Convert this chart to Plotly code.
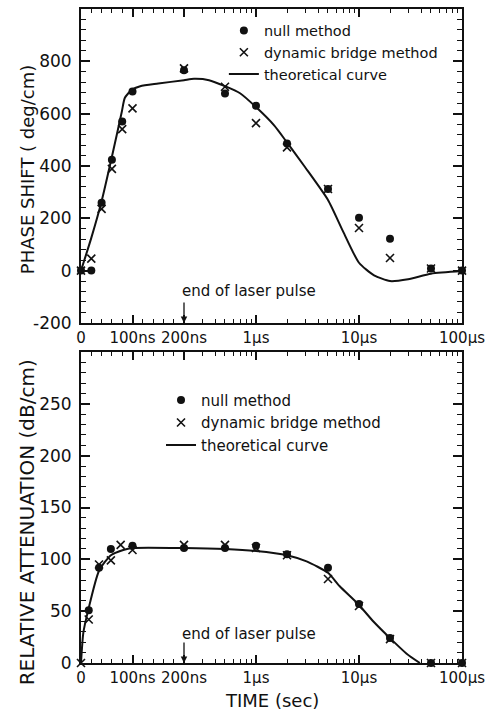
import math
import plotly.graph_objects as go

# ---------------- data (time in ns) ----------------
phase_null_t = [0, 20, 40, 60, 80, 100, 200, 500, 1000, 2000, 5000, 10000, 20000, 50000, 100000]
phase_null_v = [0, 0, 259, 424, 570, 685, 766, 677, 630, 486, 312, 202, 122, 8, 0]

phase_bridge_t = [0, 20, 40, 60, 80, 100, 200, 500, 1000, 2000, 5000, 10000, 20000, 50000, 100000]
phase_bridge_v = [0, 46, 236, 389, 541, 620, 773, 703, 564, 471, 312, 163, 48, 8, 0]

phase_theory_t = [0, 20, 40, 60, 79, 85, 98, 115, 150, 200, 250, 350, 500, 700, 1000, 1500,
                  2000, 3000, 5000, 7000, 10000, 14000, 20000, 30000, 50000, 100000]
phase_theory_v = [0, 125, 265, 435, 605, 660, 690, 705, 715, 728, 733, 728, 705, 678, 625, 555,
                  490, 395, 270, 150, 30, -18, -40, -33, -12, -2]

att_null_t = [15, 35, 58, 100, 200, 500, 1000, 2000, 5000, 10000, 20000, 50000, 100000]
att_null_v = [51, 92, 110, 113, 111, 111, 113, 105, 92, 57, 24, 0, 0]

att_bridge_t = [0, 15, 35, 58, 77, 100, 200, 500, 1000, 2000, 5000, 10000, 20000, 50000, 100000]
att_bridge_v = [0, 42, 95, 99, 114, 109, 114, 114, 111, 104, 81, 55, 23, 0, 0]

att_theory_t = [0, 4.5, 14, 35, 58, 82, 100, 200, 500, 1000, 2000, 3100, 5000, 6500, 10000,
                13800, 20000, 29000, 39000]
att_theory_v = [0, 29, 51, 89, 104, 109, 111, 111, 110, 108, 104, 98, 87, 74, 56,
                40, 24, 9, 0]

x_tick_times = [0, 100, 200, 1000, 10000, 100000]
x_tick_text = ["0", "100ns", "200ns", "1\u00b5s", "10\u00b5s", "100\u00b5s"]
x_minor_times = ([20, 40, 60, 80, 120, 140, 160, 180]
                 + [300, 400, 500, 600, 700, 800, 900]
                 + [2000, 3000, 4000, 5000, 6000, 7000, 8000, 9000]
                 + [20000, 30000, 40000, 50000, 60000, 70000, 80000, 90000])

phase_ticks = [-200, 0, 200, 400, 600, 800]
phase_tick_text = ["-200", "0", "200", "400", "600", "800"]
att_ticks = [0, 50, 100, 150, 200, 250]
att_tick_text = ["0", "50", "100", "150", "200", "250"]

PULSE_END = 200  # ns


# axis: linear 0-200 ns, logarithmic afterwards (one decade = same length as 0-200 ns)
def pos(t):
    return t / 200.0 if t <= 200 else 1.0 + math.log10(t / 200.0)


def P(ts):
    return [pos(t) for t in ts]


FONT = "DejaVu Sans"
BLACK = "#111111"

fig = go.Figure()

def add_panel(xa, ya, null_t, null_v, br_t, br_v, th_t, th_v, legend):
    fig.add_trace(go.Scatter(x=P(null_t), y=null_v, mode="markers", name="null method",
                             marker=dict(symbol="circle", size=8, color=BLACK),
                             xaxis=xa, yaxis=ya, legend=legend, cliponaxis=False))
    fig.add_trace(go.Scatter(x=P(br_t), y=br_v, mode="markers", name="dynamic bridge method",
                             marker=dict(symbol="x-thin", size=8, color=BLACK,
                                         line=dict(width=1.6, color=BLACK)),
                             xaxis=xa, yaxis=ya, legend=legend, cliponaxis=False))
    fig.add_trace(go.Scatter(x=P(th_t), y=th_v, mode="lines", name="theoretical curve",
                             line=dict(color=BLACK, width=2, shape="spline", smoothing=0.6),
                             xaxis=xa, yaxis=ya, legend=legend, cliponaxis=False))

add_panel("x", "y", phase_null_t, phase_null_v, phase_bridge_t, phase_bridge_v,
          phase_theory_t, phase_theory_v, "legend")
add_panel("x2", "y2", att_null_t, att_null_v, att_bridge_t, att_bridge_v,
          att_theory_t, att_theory_v, "legend2")

xmax = pos(x_tick_times[-1])
xaxis_common = dict(
    range=[0, xmax], showline=True, linewidth=2, linecolor=BLACK, mirror="allticks",
    ticks="inside", ticklen=8, tickwidth=1.5, tickcolor=BLACK,
    tickvals=P(x_tick_times), ticktext=x_tick_text,
    minor=dict(tickvals=P(x_minor_times), ticks="inside", ticklen=4, tickwidth=1.2,
               tickcolor=BLACK),
    showgrid=False, zeroline=False, automargin=False, ticklabeloverflow="allow",
    tickfont=dict(family=FONT, size=15, color=BLACK),
)
yaxis_common = dict(
    showline=True, linewidth=2, linecolor=BLACK, mirror="allticks",
    ticks="inside", ticklen=9, tickwidth=1.5, tickcolor=BLACK,
    showgrid=False, zeroline=False, ticklabelstandoff=4, automargin=False,
    tickfont=dict(family=FONT, size=17, color=BLACK),
)

fig.update_layout(
    width=487, height=711,
    margin=dict(l=81, r=25, t=9, b=48),
    paper_bgcolor="white", plot_bgcolor="white",
    font=dict(family=FONT, color=BLACK),
    xaxis=dict(domain=[0, 1], anchor="y", **xaxis_common),
    yaxis=dict(domain=[0.52, 1], anchor="x", range=[-200, 1000],
               tickvals=phase_ticks, ticktext=phase_tick_text,
               minor=dict(tick0=-200, dtick=40, ticks="inside", ticklen=5, tickwidth=1.2,
                          tickcolor=BLACK),
               **yaxis_common),
    xaxis2=dict(domain=[0, 1], anchor="y2", **xaxis_common),
    yaxis2=dict(domain=[0, 0.4755], anchor="x2", range=[0, 300],
                tickvals=att_ticks, ticktext=att_tick_text,
                minor=dict(tick0=0, dtick=10, ticks="inside", ticklen=5, tickwidth=1.2,
                           tickcolor=BLACK),
                **yaxis_common),
    showlegend=True,
    legend=dict(x=0.375, y=0.9916, xanchor="left", yanchor="top", bgcolor="rgba(0,0,0,0)",
                font=dict(family=FONT, size=14.5, color=BLACK), itemwidth=30,
                tracegroupgap=0),
    legend2=dict(x=0.21, y=0.427, xanchor="left", yanchor="top", bgcolor="rgba(0,0,0,0)",
                 font=dict(family=FONT, size=15, color=BLACK), itemwidth=30,
                 tracegroupgap=0),
)

annotations = [
    # y axis titles
    dict(text="PHASE SHIFT ( deg/cm)", xref="paper", yref="paper", x=-0.142, y=0.755,
         xanchor="center", yanchor="middle", textangle=-90, showarrow=False,
         font=dict(family=FONT, size=18, color=BLACK)),
    dict(text="RELATIVE ATTENUATION (dB/cm)", xref="paper", yref="paper", x=-0.142, y=0.215,
         xanchor="center", yanchor="middle", textangle=-90, showarrow=False,
         font=dict(family=FONT, size=20, color=BLACK)),
    # x axis title
    dict(text="TIME (sec)", xref="paper", yref="paper", x=0.5, y=-0.057,
         xanchor="center", yanchor="middle", showarrow=False,
         font=dict(family=FONT, size=18, color=BLACK)),
    # end of laser pulse markers
    dict(text="", x=pos(PULSE_END), y=-200, xref="x", yref="y", showarrow=True,
         ax=0, ay=-22, arrowhead=2, arrowsize=1, arrowwidth=1.3, arrowcolor=BLACK),
    dict(text="end of laser pulse", x=pos(PULSE_END), y=-78, xref="x", yref="y",
         xanchor="left", yanchor="middle", xshift=-4, showarrow=False,
         font=dict(family=FONT, size=15, color=BLACK)),
    dict(text="", x=pos(PULSE_END), y=0, xref="x2", yref="y2", showarrow=True,
         ax=0, ay=-22, arrowhead=2, arrowsize=1, arrowwidth=1.3, arrowcolor=BLACK),
    dict(text="end of laser pulse", x=pos(PULSE_END), y=28, xref="x2", yref="y2",
         xanchor="left", yanchor="middle", xshift=-4, showarrow=False,
         font=dict(family=FONT, size=15, color=BLACK)),
]
fig.update_layout(annotations=annotations)

# remove the browser's default 8px page margin so the figure fills the window exactly
fig.write_html("out.html", config={"displayModeBar": False},
               post_script="document.body.style.margin='0';")
